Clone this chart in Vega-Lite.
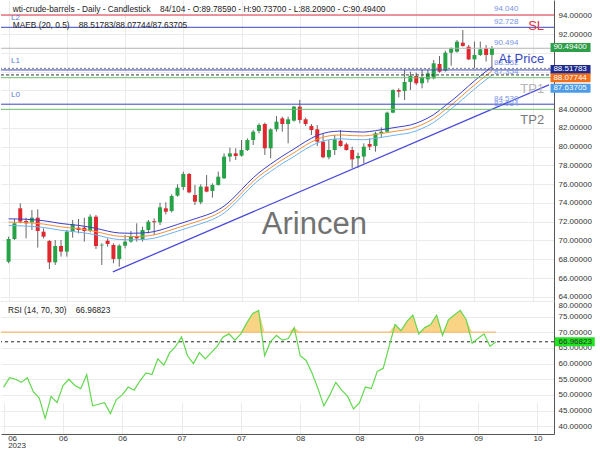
{
  "$schema": "https://vega.github.io/schema/vega-lite/v6.json",
  "padding": 0,
  "spacing": 0,
  "bounds": "flush",
  "background": "white",
  "config": {"view": {"stroke": null}, "font": "Liberation Sans", "axis": {"labelFont": "Liberation Sans"}},
  "datasets": {
    "candles": [
      {"i":0,"o":67.74,"h":70.41,"l":67.57,"c":70.16},{"i":1,"o":70.16,"h":72.29,"l":70.05,"c":71.83},{"i":2,"o":73.43,"h":73.96,"l":71.83,"c":72.01},{"i":3,"o":72.08,"h":72.43,"l":70.23,"c":71.83},{"i":4,"o":71.94,"h":73.25,"l":71.12,"c":72.43},{"i":5,"o":72.43,"h":73.32,"l":69.24,"c":71.01},{"i":6,"o":70.94,"h":71.30,"l":70.23,"c":70.41},{"i":7,"o":69.95,"h":70.05,"l":66.96,"c":67.67},{"i":8,"o":67.67,"h":70.05,"l":67.39,"c":69.41},{"i":9,"o":69.41,"h":70.05,"l":68.28,"c":68.81},
      {"i":10,"o":68.81,"h":71.12,"l":68.28,"c":70.94},{"i":11,"o":70.94,"h":72.19,"l":70.30,"c":71.72},{"i":12,"o":71.37,"h":72.29,"l":70.76,"c":71.12},{"i":13,"o":71.37,"h":72.43,"l":69.88,"c":71.01},{"i":14,"o":71.01,"h":72.79,"l":70.87,"c":72.54},{"i":15,"o":72.54,"h":72.72,"l":69.09,"c":69.41},{"i":16,"o":69.48,"h":69.70,"l":67.39,"c":69.55},{"i":17,"o":69.98,"h":70.23,"l":69.34,"c":69.63},{"i":18,"o":69.52,"h":69.70,"l":67.57,"c":68.03},{"i":19,"o":68.03,"h":69.59,"l":67.21,"c":69.45},
      {"i":20,"o":69.45,"h":70.59,"l":69.16,"c":69.88},{"i":21,"o":69.88,"h":71.01,"l":69.77,"c":70.48},{"i":22,"o":70.48,"h":71.83,"l":69.88,"c":70.23},{"i":23,"o":70.16,"h":71.47,"l":69.88,"c":71.12},{"i":24,"o":71.12,"h":72.19,"l":70.76,"c":72.01},{"i":25,"o":72.05,"h":72.36,"l":70.59,"c":71.94},{"i":26,"o":71.94,"h":74.03,"l":71.65,"c":73.54},{"i":27,"o":73.43,"h":74.07,"l":72.79,"c":73.07},{"i":28,"o":73.14,"h":74.92,"l":73.00,"c":74.74},{"i":29,"o":74.78,"h":75.99,"l":74.67,"c":75.63},
      {"i":30,"o":75.70,"h":77.34,"l":75.38,"c":77.09},{"i":31,"o":77.09,"h":77.20,"l":75.03,"c":75.13},{"i":32,"o":74.85,"h":75.92,"l":73.78,"c":74.14},{"i":33,"o":74.07,"h":75.99,"l":73.86,"c":75.74},{"i":34,"o":75.74,"h":76.98,"l":75.13,"c":75.21},{"i":35,"o":75.28,"h":76.09,"l":74.57,"c":75.92},{"i":36,"o":75.92,"h":77.34,"l":75.85,"c":76.80},{"i":37,"o":76.63,"h":79.29,"l":76.56,"c":78.94},{"i":38,"o":78.94,"h":79.90,"l":78.40,"c":79.29},{"i":39,"o":79.29,"h":79.83,"l":78.58,"c":79.01},
      {"i":40,"o":79.04,"h":80.71,"l":78.94,"c":79.65},{"i":41,"o":79.65,"h":80.89,"l":79.54,"c":80.71},{"i":42,"o":80.71,"h":81.78,"l":80.18,"c":81.60},{"i":43,"o":81.67,"h":82.49,"l":81.43,"c":82.31},{"i":44,"o":82.42,"h":82.56,"l":79.12,"c":79.83},{"i":45,"o":79.83,"h":81.96,"l":78.76,"c":81.85},{"i":46,"o":81.85,"h":83.27,"l":81.60,"c":82.67},{"i":47,"o":83.02,"h":83.20,"l":81.60,"c":82.42},{"i":48,"o":82.42,"h":83.20,"l":80.36,"c":82.92},{"i":49,"o":82.78,"h":84.34,"l":82.67,"c":84.27},
      {"i":50,"o":84.27,"h":84.98,"l":82.49,"c":82.85},{"i":51,"o":82.92,"h":83.10,"l":82.21,"c":82.42},{"i":52,"o":82.21,"h":82.42,"l":81.25,"c":81.78},{"i":53,"o":81.85,"h":82.31,"l":80.07,"c":80.54},{"i":54,"o":80.54,"h":81.43,"l":78.76,"c":78.87},{"i":55,"o":78.87,"h":80.71,"l":78.65,"c":79.65},{"i":56,"o":79.65,"h":81.25,"l":79.12,"c":80.79},{"i":57,"o":80.64,"h":81.78,"l":80.00,"c":80.07},{"i":58,"o":80.25,"h":80.43,"l":79.58,"c":79.65},{"i":59,"o":79.65,"h":80.00,"l":77.69,"c":78.65},
      {"i":60,"o":78.76,"h":79.36,"l":77.76,"c":79.01},{"i":61,"o":78.94,"h":80.36,"l":78.23,"c":80.00},{"i":62,"o":80.29,"h":80.89,"l":79.65,"c":80.00},{"i":63,"o":80.07,"h":81.60,"l":79.47,"c":81.43},{"i":64,"o":81.43,"h":82.06,"l":81.00,"c":81.60},{"i":65,"o":81.60,"h":83.74,"l":81.50,"c":83.63},{"i":66,"o":83.63,"h":86.12,"l":83.56,"c":86.04},{"i":67,"o":86.04,"h":86.22,"l":85.26,"c":85.87},{"i":68,"o":85.94,"h":88.18,"l":84.98,"c":86.90},{"i":69,"o":86.90,"h":88.00,"l":86.04,"c":87.54},
      {"i":70,"o":87.54,"h":87.89,"l":86.58,"c":86.76},{"i":71,"o":86.76,"h":88.18,"l":86.22,"c":87.40},{"i":72,"o":87.18,"h":88.18,"l":86.83,"c":87.82},{"i":73,"o":87.29,"h":89.24,"l":87.18,"c":88.89},{"i":74,"o":88.82,"h":89.67,"l":87.89,"c":88.00},{"i":75,"o":88.11,"h":90.24,"l":88.00,"c":90.02},{"i":76,"o":90.02,"h":90.59,"l":88.64,"c":90.49},{"i":77,"o":90.13,"h":91.37,"l":90.02,"c":91.20},{"i":78,"o":91.09,"h":92.44,"l":90.66,"c":90.74},{"i":79,"o":90.66,"h":90.84,"l":89.24,"c":89.31},
      {"i":80,"o":89.31,"h":91.20,"l":88.35,"c":89.78},{"i":81,"o":89.78,"h":91.20,"l":89.67,"c":90.38},{"i":82,"o":90.49,"h":90.84,"l":89.07,"c":89.78},{"i":83,"o":89.7859,"h":90.737,"l":88.209,"c":90.494}
    ],
    "maeb": [
      {"i":0,"up":72.31,"mid":71.95,"lo":71.59},{"i":3,"up":72.26,"mid":71.90,"lo":71.54},{"i":6,"up":72.11,"mid":71.75,"lo":71.39},{"i":9,"up":71.81,"mid":71.45,"lo":71.09},{"i":12,"up":71.61,"mid":71.25,"lo":70.89},{"i":15,"up":71.30,"mid":70.95,"lo":70.60},{"i":17,"up":71.00,"mid":70.65,"lo":70.30},{"i":19,"up":70.80,"mid":70.45,"lo":70.10},{"i":21,"up":70.77,"mid":70.42,"lo":70.07},{"i":23,"up":70.80,"mid":70.45,"lo":70.10},
      {"i":25,"up":70.95,"mid":70.60,"lo":70.25},{"i":27,"up":71.30,"mid":70.95,"lo":70.60},{"i":29,"up":71.71,"mid":71.35,"lo":70.99},{"i":31,"up":72.11,"mid":71.75,"lo":71.39},{"i":33,"up":72.51,"mid":72.15,"lo":71.79},{"i":35,"up":72.96,"mid":72.60,"lo":72.24},{"i":37,"up":73.67,"mid":73.30,"lo":72.93},{"i":39,"up":74.77,"mid":74.40,"lo":74.03},{"i":41,"up":76.08,"mid":75.70,"lo":75.32},{"i":43,"up":77.23,"mid":76.85,"lo":76.47},
      {"i":45,"up":78.14,"mid":77.75,"lo":77.36},{"i":47,"up":78.99,"mid":78.60,"lo":78.21},{"i":49,"up":79.75,"mid":79.35,"lo":78.95},{"i":51,"up":80.55,"mid":80.15,"lo":79.75},{"i":53,"up":81.20,"mid":80.80,"lo":80.40},{"i":55,"up":81.56,"mid":81.15,"lo":80.74},{"i":57,"up":81.66,"mid":81.25,"lo":80.84},{"i":59,"up":81.59,"mid":81.18,"lo":80.77},{"i":61,"up":81.56,"mid":81.15,"lo":80.74},{"i":63,"up":81.71,"mid":81.30,"lo":80.89},
      {"i":65,"up":81.91,"mid":81.50,"lo":81.09},{"i":67,"up":82.11,"mid":81.70,"lo":81.29},{"i":69,"up":82.31,"mid":81.90,"lo":81.49},{"i":71,"up":82.76,"mid":82.35,"lo":81.94},{"i":73,"up":83.42,"mid":83.00,"lo":82.59},{"i":75,"up":84.37,"mid":83.95,"lo":83.53},{"i":77,"up":85.37,"mid":84.95,"lo":84.53},{"i":79,"up":86.48,"mid":86.05,"lo":85.62},{"i":81,"up":87.54,"mid":87.10,"lo":86.66},{"i":83,"up":88.51783,"mid":88.07744,"lo":87.63705}
    ],
    "trend": [{"i":17.9,"p":66.65},{"i":92.8,"p":86.6}],
    "levels": [
      {"k":"sl","p":94.04,"lbl":"94.040","tag":"SL"},
      {"k":"l","p":92.728,"lbl":"92.728","side":"L2"},
      {"k":"px","p":90.494,"lbl":"90.494","tag":"At Price"},
      {"k":"dg","p":88.352,"lbl":"88.352"},
      {"k":"l","p":88.18,"side":"L1"},
      {"k":"dk","p":87.65},
      {"k":"tp","p":87.354,"lbl":"87.354","tag":"TP1"},
      {"k":"l","p":84.53,"lbl":"84.530","side":"L0"},
      {"k":"tp","p":83.984,"lbl":"83.984","tag":"TP2"}
    ],
    "tags": [
      {"k":"c","v":90.494,"t":"90.49400"},
      {"k":"u","v":88.51783,"t":"88.51783"},
      {"k":"m","v":88.07744,"t":"88.07744"},
      {"k":"d","v":87.63705,"t":"87.63705"}
    ],
    "rsi": [
      {"i":0,"r":52.5},{"i":1,"r":55.5},{"i":2,"r":55},{"i":3,"r":54},{"i":4,"r":55.5},{"i":5,"r":51},{"i":6,"r":49},{"i":7,"r":42.5},{"i":8,"r":49.5},{"i":9,"r":47.5},
      {"i":10,"r":53},{"i":11,"r":55},{"i":12,"r":53},{"i":13,"r":52},{"i":14,"r":56.5},{"i":15,"r":46.5},{"i":16,"r":47},{"i":17,"r":47.5},{"i":18,"r":44},{"i":19,"r":48.5},
      {"i":20,"r":50},{"i":21,"r":52.5},{"i":22,"r":51.5},{"i":23,"r":54.5},{"i":24,"r":57},{"i":25,"r":56.5},{"i":26,"r":61.5},{"i":27,"r":59.5},{"i":28,"r":63.5},{"i":29,"r":65.5},
      {"i":30,"r":68.5},{"i":31,"r":62.5},{"i":32,"r":60},{"i":33,"r":63.5},{"i":34,"r":61.5},{"i":35,"r":63.5},{"i":36,"r":65.5},{"i":37,"r":68.5},{"i":38,"r":69.5},{"i":39,"r":67.5},
      {"i":40,"r":69.5},{"i":41,"r":73},{"i":42,"r":76},{"i":43,"r":77},{"i":44,"r":62.5},{"i":45,"r":67},{"i":46,"r":69},{"i":47,"r":67.5},{"i":48,"r":68},{"i":49,"r":71.5},
      {"i":50,"r":62.5},{"i":51,"r":61},{"i":52,"r":57},{"i":53,"r":52},{"i":54,"r":46.5},{"i":55,"r":50},{"i":56,"r":54},{"i":57,"r":51.5},{"i":58,"r":49.5},{"i":59,"r":45.5},
      {"i":60,"r":47.5},{"i":61,"r":52.5},{"i":62,"r":52},{"i":63,"r":57.5},{"i":64,"r":58.5},{"i":65,"r":65.5},{"i":66,"r":72.5},{"i":67,"r":70.5},{"i":68,"r":73.5},{"i":69,"r":75.5},
      {"i":70,"r":69.5},{"i":71,"r":71.5},{"i":72,"r":72.5},{"i":73,"r":75.5},{"i":74,"r":69},{"i":75,"r":74},{"i":76,"r":75.5},{"i":77,"r":77},{"i":78,"r":74},{"i":79,"r":66.5},
      {"i":80,"r":68},{"i":81,"r":69.5},{"i":82,"r":65.5},{"i":83,"r":66.97}
    ]
  },
  "vconcat": [
    {
      "width": 553,
      "height": 301,
      "layer": [
        {
          "data": {"name": "candles"},
          "mark": {"type": "rule", "color": "#666666", "strokeWidth": 1},
          "encoding": {
            "x": {"field": "i", "type": "quantitative", "scale": {"domain": [-0.45, 92.8], "nice": false, "zero": false},
              "axis": {"orient": "bottom", "values": [0,10,20,30,40,50,60,70,80,90], "labels": false, "ticks": false, "domain": true, "domainColor": "#555555", "grid": true, "gridColor": "#ebebeb", "title": null}},
            "y": {"field": "l", "type": "quantitative", "scale": {"domain": [63.549, 95.639], "nice": false, "zero": false},
              "axis": {"orient": "right", "values": [64,66,68,70,72,74,76,78,80,82,84,86,88,90,92,94], "labelExpr": "indexof([86,88,90], datum.value) >= 0 ? '' : format(datum.value, '.5f')", "ticks": false, "domain": true, "domainColor": "#555555", "grid": true, "gridColor": "#ebebeb", "labelFontSize": 8, "labelColor": "#333333", "labelPadding": 4, "title": null}},
            "y2": {"field": "h"}
          }
        },
        {
          "data": {"name": "candles"},
          "mark": {"type": "bar", "size": 4},
          "encoding": {
            "x": {"field": "i", "type": "quantitative", "scale": {"domain": [-0.45, 92.8], "nice": false, "zero": false},
              "axis": {"orient": "bottom", "values": [0,10,20,30,40,50,60,70,80,90], "labels": false, "ticks": false, "domain": true, "domainColor": "#555555", "grid": true, "gridColor": "#ebebeb", "title": null}},
            "y": {"field": "o", "type": "quantitative", "scale": {"domain": [63.549, 95.639], "nice": false, "zero": false},
              "axis": {"orient": "right", "values": [64,66,68,70,72,74,76,78,80,82,84,86,88,90,92,94], "labelExpr": "indexof([86,88,90], datum.value) >= 0 ? '' : format(datum.value, '.5f')", "ticks": false, "domain": true, "domainColor": "#555555", "grid": true, "gridColor": "#ebebeb", "labelFontSize": 8, "labelColor": "#333333", "labelPadding": 4, "title": null}},
            "y2": {"field": "c"},
            "color": {"condition": {"test": "datum.c >= datum.o", "value": "#27a347"}, "value": "#e0282e"}
          }
        },
        {
          "data": {"name": "maeb"},
          "layer": [
            {"mark": {"type": "line", "color": "#3d3dc8", "strokeWidth": 1, "interpolate": "monotone"},
             "encoding": {"y": {"field": "up", "type": "quantitative", "scale": {"domain": [63.549, 95.639], "nice": false, "zero": false},
              "axis": {"orient": "right", "values": [64,66,68,70,72,74,76,78,80,82,84,86,88,90,92,94], "labelExpr": "indexof([86,88,90], datum.value) >= 0 ? '' : format(datum.value, '.5f')", "ticks": false, "domain": true, "domainColor": "#555555", "grid": true, "gridColor": "#ebebeb", "labelFontSize": 8, "labelColor": "#333333", "labelPadding": 4, "title": null}}}},
            {"mark": {"type": "line", "color": "#f0923c", "strokeWidth": 1, "interpolate": "monotone"},
             "encoding": {"y": {"field": "mid", "type": "quantitative", "scale": {"domain": [63.549, 95.639], "nice": false, "zero": false},
              "axis": {"orient": "right", "values": [64,66,68,70,72,74,76,78,80,82,84,86,88,90,92,94], "labelExpr": "indexof([86,88,90], datum.value) >= 0 ? '' : format(datum.value, '.5f')", "ticks": false, "domain": true, "domainColor": "#555555", "grid": true, "gridColor": "#ebebeb", "labelFontSize": 8, "labelColor": "#333333", "labelPadding": 4, "title": null}}}},
            {"mark": {"type": "line", "color": "#6fb2ee", "strokeWidth": 1, "interpolate": "monotone"},
             "encoding": {"y": {"field": "lo", "type": "quantitative", "scale": {"domain": [63.549, 95.639], "nice": false, "zero": false},
              "axis": {"orient": "right", "values": [64,66,68,70,72,74,76,78,80,82,84,86,88,90,92,94], "labelExpr": "indexof([86,88,90], datum.value) >= 0 ? '' : format(datum.value, '.5f')", "ticks": false, "domain": true, "domainColor": "#555555", "grid": true, "gridColor": "#ebebeb", "labelFontSize": 8, "labelColor": "#333333", "labelPadding": 4, "title": null}}}}
          ],
          "encoding": {
            "x": {"field": "i", "type": "quantitative", "scale": {"domain": [-0.45, 92.8], "nice": false, "zero": false},
              "axis": {"orient": "bottom", "values": [0,10,20,30,40,50,60,70,80,90], "labels": false, "ticks": false, "domain": true, "domainColor": "#555555", "grid": true, "gridColor": "#ebebeb", "title": null}}
          }
        },
        {
          "data": {"name": "trend"},
          "mark": {"type": "line", "color": "#4b4bdc", "strokeWidth": 1.3},
          "encoding": {
            "x": {"field": "i", "type": "quantitative", "scale": {"domain": [-0.45, 92.8], "nice": false, "zero": false},
              "axis": {"orient": "bottom", "values": [0,10,20,30,40,50,60,70,80,90], "labels": false, "ticks": false, "domain": true, "domainColor": "#555555", "grid": true, "gridColor": "#ebebeb", "title": null}},
            "y": {"field": "p", "type": "quantitative", "scale": {"domain": [63.549, 95.639], "nice": false, "zero": false},
              "axis": {"orient": "right", "values": [64,66,68,70,72,74,76,78,80,82,84,86,88,90,92,94], "labelExpr": "indexof([86,88,90], datum.value) >= 0 ? '' : format(datum.value, '.5f')", "ticks": false, "domain": true, "domainColor": "#555555", "grid": true, "gridColor": "#ebebeb", "labelFontSize": 8, "labelColor": "#333333", "labelPadding": 4, "title": null}}
          }
        },
        {
          "data": {"name": "levels"},
          "layer": [
            {
              "mark": {"type": "rule", "strokeWidth": 1},
              "encoding": {
                "color": {"field": "k", "type": "nominal", "scale": {"domain": ["sl","l","px","dg","dk","tp"], "range": ["#dd3344","#3a47c2","#b4b4b4","#7a7a7a","#333333","#6cbd6c"]}, "legend": null},
                "strokeDash": {"field": "k", "type": "nominal", "scale": {"domain": ["sl","l","px","dg","dk","tp"], "range": [[1,0],[1,0],[1,0],[2,2],[3,2],[1,0]]}, "legend": null}
              }
            },
            {
              "transform": [{"filter": "datum.lbl"}],
              "mark": {"type": "text", "align": "left", "baseline": "bottom", "dy": -1.5, "fontSize": 8, "color": "#7794e6"},
              "encoding": {
                "x": {"datum": 83.35, "type": "quantitative", "scale": {"domain": [-0.45, 92.8], "nice": false, "zero": false},
                  "axis": {"orient": "bottom", "values": [0,10,20,30,40,50,60,70,80,90], "labels": false, "ticks": false, "domain": true, "domainColor": "#555555", "grid": true, "gridColor": "#ebebeb", "title": null}},
                "text": {"field": "lbl"}
              }
            },
            {
              "transform": [{"filter": "datum.tag"}],
              "mark": {"type": "text", "align": "right", "baseline": "top", "dy": 5, "fontSize": 13},
              "encoding": {
                "x": {"datum": 91.96, "type": "quantitative", "scale": {"domain": [-0.45, 92.8], "nice": false, "zero": false},
                  "axis": {"orient": "bottom", "values": [0,10,20,30,40,50,60,70,80,90], "labels": false, "ticks": false, "domain": true, "domainColor": "#555555", "grid": true, "gridColor": "#ebebeb", "title": null}},
                "text": {"field": "tag"},
                "color": {"field": "tag", "type": "nominal", "scale": {"domain": ["SL","At Price","TP1","TP2"], "range": ["#e4334f","#9c9c9c","#3c9f3c","#3c9f3c"]}, "legend": null}
              }
            },
            {
              "transform": [{"filter": "datum.side"}],
              "mark": {"type": "text", "align": "left", "baseline": "bottom", "dy": -5, "fontSize": 8, "color": "#5a78dc"},
              "encoding": {
                "x": {"datum": 0.4, "type": "quantitative", "scale": {"domain": [-0.45, 92.8], "nice": false, "zero": false},
                  "axis": {"orient": "bottom", "values": [0,10,20,30,40,50,60,70,80,90], "labels": false, "ticks": false, "domain": true, "domainColor": "#555555", "grid": true, "gridColor": "#ebebeb", "title": null}},
                "text": {"field": "side"}
              }
            }
          ],
          "encoding": {
            "y": {"field": "p", "type": "quantitative", "scale": {"domain": [63.549, 95.639], "nice": false, "zero": false},
              "axis": {"orient": "right", "values": [64,66,68,70,72,74,76,78,80,82,84,86,88,90,92,94], "labelExpr": "indexof([86,88,90], datum.value) >= 0 ? '' : format(datum.value, '.5f')", "ticks": false, "domain": true, "domainColor": "#555555", "grid": true, "gridColor": "#ebebeb", "labelFontSize": 8, "labelColor": "#333333", "labelPadding": 4, "title": null}}
          }
        },
        {
          "data": {"values": [
            {"t": "wti-crude-barrels - Daily - Candlestick\u00a0\u00a0\u00a0\u00a084/104 - O:89.78590 - H:90.73700 - L:88.20900 - C:90.49400", "kind": "h1"},
            {"t": "MAEB (20, 0.5)\u00a0\u00a0\u00a0\u00a088.51783/88.07744/87.63705", "kind": "h2"},
            {"t": "Arincen", "kind": "wm"}
          ]},
          "layer": [
            {
              "transform": [{"filter": "datum.kind === 'h1'"}],
              "mark": {"type": "text", "align": "left", "baseline": "middle", "fontSize": 8.3, "color": "#222222"},
              "encoding": {"x": {"datum": 0.72}, "y": {"datum": 94.6}, "text": {"field": "t"}}
            },
            {
              "transform": [{"filter": "datum.kind === 'h2'"}],
              "mark": {"type": "text", "align": "left", "baseline": "middle", "fontSize": 8.3, "color": "#222222"},
              "encoding": {"x": {"datum": 0.72}, "y": {"datum": 92.87}, "text": {"field": "t"}}
            },
            {
              "transform": [{"filter": "datum.kind === 'wm'"}],
              "mark": {"type": "text", "align": "center", "baseline": "middle", "fontSize": 31, "color": "#727272"},
              "encoding": {"x": {"datum": 52.5}, "y": {"datum": 71.65}, "text": {"field": "t"}}
            }
          ],
          "encoding": {
            "x": {"type": "quantitative", "scale": {"domain": [-0.45, 92.8], "nice": false, "zero": false},
              "axis": {"orient": "bottom", "values": [0,10,20,30,40,50,60,70,80,90], "labels": false, "ticks": false, "domain": true, "domainColor": "#555555", "grid": true, "gridColor": "#ebebeb", "title": null}},
            "y": {"type": "quantitative", "scale": {"domain": [63.549, 95.639], "nice": false, "zero": false},
              "axis": {"orient": "right", "values": [64,66,68,70,72,74,76,78,80,82,84,86,88,90,92,94], "labelExpr": "indexof([86,88,90], datum.value) >= 0 ? '' : format(datum.value, '.5f')", "ticks": false, "domain": true, "domainColor": "#555555", "grid": true, "gridColor": "#ebebeb", "labelFontSize": 8, "labelColor": "#333333", "labelPadding": 4, "title": null}}
          }
        },
        {
          "data": {"name": "tags"},
          "layer": [
            {"transform": [{"filter": "datum.k === 'c'"}], "layer": [
              {"mark": {"type": "point", "shape": "M-1,-0.225L1,-0.225L1,0.225L-1,0.225Z", "size": 1600, "filled": true, "opacity": 1, "strokeWidth": 0, "color": "#2e9e48", "yOffset": -0.8}, "encoding": {"x": {"datum": 96.5}}},
              {"mark": {"type": "text", "align": "left", "baseline": "middle", "fontSize": 8, "color": "white", "yOffset": -0.8}, "encoding": {"x": {"datum": 93.56}, "text": {"field": "t"}}}
            ]},
            {"transform": [{"filter": "datum.k === 'u'"}], "layer": [
              {"mark": {"type": "point", "shape": "M-1,-0.225L1,-0.225L1,0.225L-1,0.225Z", "size": 1600, "filled": true, "opacity": 1, "strokeWidth": 0, "color": "#1d2b8e", "yOffset": 2.7}, "encoding": {"x": {"datum": 96.5}}},
              {"mark": {"type": "text", "align": "left", "baseline": "middle", "fontSize": 8, "color": "white", "yOffset": 2.7}, "encoding": {"x": {"datum": 93.56}, "text": {"field": "t"}}}
            ]},
            {"transform": [{"filter": "datum.k === 'm'"}], "layer": [
              {"mark": {"type": "point", "shape": "M-1,-0.225L1,-0.225L1,0.225L-1,0.225Z", "size": 1600, "filled": true, "opacity": 1, "strokeWidth": 0, "color": "#ee6f1e", "yOffset": 6.9}, "encoding": {"x": {"datum": 96.5}}},
              {"mark": {"type": "text", "align": "left", "baseline": "middle", "fontSize": 8, "color": "white", "yOffset": 6.9}, "encoding": {"x": {"datum": 93.56}, "text": {"field": "t"}}}
            ]},
            {"transform": [{"filter": "datum.k === 'd'"}], "layer": [
              {"mark": {"type": "point", "shape": "M-1,-0.225L1,-0.225L1,0.225L-1,0.225Z", "size": 1600, "filled": true, "opacity": 1, "strokeWidth": 0, "color": "#4d9be6", "yOffset": 13.2}, "encoding": {"x": {"datum": 96.5}}},
              {"mark": {"type": "text", "align": "left", "baseline": "middle", "fontSize": 8, "color": "white", "yOffset": 13.2}, "encoding": {"x": {"datum": 93.56}, "text": {"field": "t"}}}
            ]}
          ],
          "encoding": {
            "x": {"type": "quantitative", "scale": {"domain": [-0.45, 92.8], "nice": false, "zero": false},
              "axis": {"orient": "bottom", "values": [0,10,20,30,40,50,60,70,80,90], "labels": false, "ticks": false, "domain": true, "domainColor": "#555555", "grid": true, "gridColor": "#ebebeb", "title": null}},
            "y": {"field": "v", "type": "quantitative", "scale": {"domain": [63.549, 95.639], "nice": false, "zero": false},
              "axis": {"orient": "right", "values": [64,66,68,70,72,74,76,78,80,82,84,86,88,90,92,94], "labelExpr": "indexof([86,88,90], datum.value) >= 0 ? '' : format(datum.value, '.5f')", "ticks": false, "domain": true, "domainColor": "#555555", "grid": true, "gridColor": "#ebebeb", "labelFontSize": 8, "labelColor": "#333333", "labelPadding": 4, "title": null}}
          }
        }
      ]
    },
    {
      "width": 553,
      "height": 133,
      "layer": [
        {
          "data": {"name": "rsi"},
          "mark": {"type": "area", "color": "#f7cc6e", "opacity": 0.85},
          "encoding": {
            "x": {"field": "i", "type": "quantitative", "scale": {"domain": [-0.45, 92.8], "nice": false, "zero": false},
              "axis": {"orient": "bottom", "values": [0,10,20,30,40,50,60,70,80,90], "labelExpr": "datum.value == 0 ? ['06','2023'] : datum.value < 30 ? '06' : datum.value < 50 ? '07' : datum.value < 70 ? '08' : datum.value < 90 ? '09' : '10'", "labelFlush": 5, "labelFlushOffset": -4, "ticks": false, "domain": true, "domainColor": "#555555", "grid": true, "gridColor": "#ebebeb", "labelFontSize": 8, "labelColor": "#333333", "labelPadding": 0, "labelLineHeight": 7.5, "title": null}},
            "y": {"field": "r", "type": "quantitative", "scale": {"domain": [70, 80], "range": [31.294, 0], "clamp": true, "nice": false, "zero": false}, "axis": null},
            "y2": {"datum": 70}
          }
        },
        {
          "layer": [
            {
              "data": {"values": [{"v": 70}]},
              "mark": {"type": "rule", "color": "#f5c27f", "strokeWidth": 1.5},
              "encoding": {
                "x": {"datum": -0.45},
                "x2": {"datum": 83},
                "y": {"field": "v"}
              }
            },
            {
              "data": {"values": [{"v": 66.96823}]},
              "mark": {"type": "rule", "color": "#222222", "strokeDash": [3, 3], "strokeWidth": 1},
              "encoding": {"y": {"field": "v"}}
            },
            {
              "data": {"name": "rsi"},
              "mark": {"type": "line", "color": "#62d84e", "strokeWidth": 1.2},
              "encoding": {"x": {"field": "i"}, "y": {"field": "r"}}
            },
            {
              "data": {"values": [{"t": "RSI (14, 70, 30)\u00a0\u00a0\u00a0\u00a066.96823"}]},
              "mark": {"type": "text", "align": "left", "baseline": "middle", "fontSize": 8.3, "color": "#222222"},
              "encoding": {"x": {"datum": 0.72}, "y": {"datum": 76.8}, "text": {"field": "t"}}
            },
            {
              "data": {"values": [{"v": 66.96823, "t": "66.96823"}]},
              "layer": [
                {"mark": {"type": "point", "shape": "M-1,-0.225L1,-0.225L1,0.225L-1,0.225Z", "size": 1600, "filled": true, "opacity": 1, "strokeWidth": 0, "color": "#22e022"}, "encoding": {"x": {"datum": 96.3}, "y": {"field": "v"}}},
                {"mark": {"type": "text", "align": "left", "baseline": "middle", "fontSize": 8, "color": "#2a3a2a"}, "encoding": {"x": {"datum": 93.56}, "y": {"field": "v"}, "text": {"field": "t"}}}
              ]
            }
          ],
          "encoding": {
            "x": {"type": "quantitative", "scale": {"domain": [-0.45, 92.8], "nice": false, "zero": false},
              "axis": {"orient": "bottom", "values": [0,10,20,30,40,50,60,70,80,90], "labelExpr": "datum.value == 0 ? ['06','2023'] : datum.value < 30 ? '06' : datum.value < 50 ? '07' : datum.value < 70 ? '08' : datum.value < 90 ? '09' : '10'", "labelFlush": 5, "labelFlushOffset": -4, "ticks": false, "domain": true, "domainColor": "#555555", "grid": true, "gridColor": "#ebebeb", "labelFontSize": 8, "labelColor": "#333333", "labelPadding": 0, "labelLineHeight": 7.5, "title": null}},
            "y": {"type": "quantitative", "scale": {"domain": [37.5, 80], "nice": false, "zero": false},
              "axis": {"orient": "right", "values": [40,45,50,55,60,65,70,75,80], "format": ".5f", "labelFlush": 4, "ticks": false, "domain": true, "domainColor": "#555555", "grid": true, "gridColor": "#ebebeb", "labelFontSize": 8, "labelColor": "#333333", "labelPadding": 4, "title": null}}
          }
        }
      ],
      "resolve": {"scale": {"y": "independent"}}
    }
  ]
}
